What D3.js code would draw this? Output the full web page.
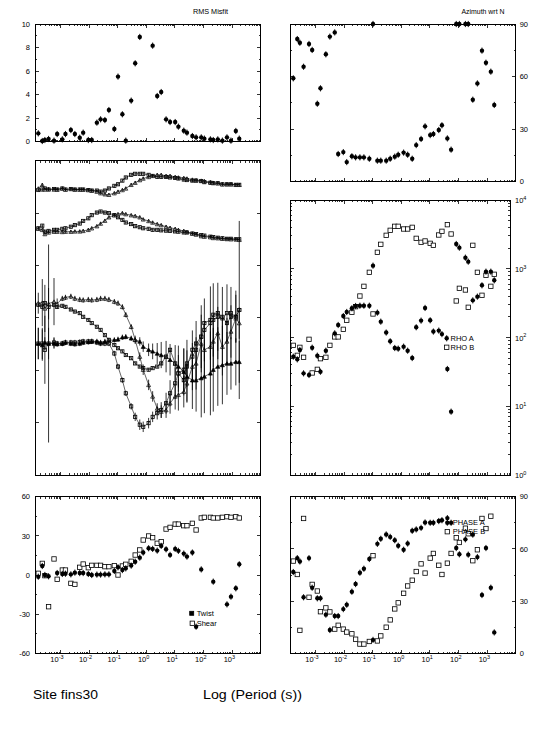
<!DOCTYPE html>
<html><head><meta charset="utf-8">
<script src="https://cdn.jsdelivr.net/npm/d3@7"></script>
<style>body{margin:0;background:#fff}svg{display:block}</style>
</head><body>
<script>
// ---------- DATA ----------
const period = [1.66e-4,2.29e-4,2.82e-4,3.80e-4,5.89e-4,7.59e-4,1.15e-3,1.48e-3,2.29e-3,3.16e-3,4.68e-3,6.17e-3,9.33e-3,0.0123,0.0186,0.0251,0.0355,0.049,0.0759,0.102,0.145,0.191,0.295,0.407,0.589,0.776,1.20,1.66,2.40,3.31,4.90,6.76,10.2,13.2,20.4,26.3,40.7,55.0,83.2,107,174,219,316,457,661,912,1349,1778];

const rmsMisfit = [0.71,0.06,0.14,0.23,0.09,0.65,0.20,0.65,0.99,0.65,0.34,0.77,0.14,0.14,1.62,1.90,1.84,2.69,1.08,5.53,2.33,0.09,3.49,6.66,8.90,null,null,8.16,3.88,4.22,1.90,1.67,1.67,1.28,0.94,0.77,0.48,0.37,0.37,0.26,0.20,0.14,0.20,0.09,0.37,0.09,0.91,0.26];

const azimuth = [59.0,81.4,79.3,65.6,78.6,75.2,44.5,53.3,72.7,82.8,85.2,15.8,16.9,11.2,14.5,13.9,13.9,13.9,13.1,90,12.0,12.0,12.0,13.1,14.3,15.4,16.6,15.4,13.1,20.9,24.4,31.6,26.6,27.2,29.5,32.2,24.7,18.3,90,90,90,90,46.8,56.1,74.8,67.9,62.8,43.8];

const rhoA = [52.6,48.1,65.8,30.1,28.5,71.1,54.4,31.8,64.3,null,115,152,205,235,266,287,290,290,290,1109,230,170,118,88,70.3,68.8,73.6,64.3,50.3,141,176,269,178,122,126,112,34.8,8.34,2291,2027,1449,1268,347,393,574,907,907,679];
const rhoB = [76.9,55.0,71.9,51.5,94.1,30.5,34.4,49.2,51.5,76.9,102,102,131.5,178,232,281,401,555,887,220,1734,2265,3063,3622,4141,4141,3786,3786,4002,2768,2422,2535,2342,2191,3097,3501,4377,3202,340,519,491,275,2191,887,411,802,555,830];

const twist = [-1.3,6.9,0,-1.0,null,1.5,0.8,1.0,0.5,1.8,1.5,1.5,0.8,0,0.3,0.3,0.5,0.5,3.1,5.9,3.8,5.1,7.2,10.2,13.3,17.2,20.5,20.0,18.7,22.3,19.7,15.4,20.0,18.5,16.4,14.1,17.2,-39.6,4.3,null,null,-5.1,null,null,-22.5,-16.6,-10.2,8.2];
const shear = [1.3,8.9,-0.5,-24.3,12.3,-3.3,3.8,3.8,-6.4,-7.2,5.9,8.4,5.6,7.4,7.4,7.4,6.4,6.4,7.2,0,6.9,8.2,10.5,15.3,19.2,26.8,29.9,28.6,24.3,25.5,35.2,36.5,39.0,39.0,37.8,37.8,39.6,34.5,43.7,44.2,44.2,43.7,43.7,44.2,44.7,44.2,44.7,43.7];

const phaseA = [46.7,54.7,52.8,32.2,54.7,37.7,31.6,31.6,22.2,13.4,21.4,21.4,25.4,27.9,35.4,39.8,46.3,48.6,54.2,7.7,62.9,65.8,68.3,66.9,65.0,61.8,59.5,63.1,70.4,71.2,72.1,75.2,75.0,75.0,76.0,76.5,77.7,75.0,60.5,56.9,65.5,56.7,68.2,55.3,33.5,60.5,37.7,12.0];
const phaseB = [53.0,45.3,13.2,77.5,32.2,39.6,35.8,23.9,26.1,23.8,13.9,16.1,13.9,12.2,11.2,8.1,5.3,5.3,6.8,56.1,7.1,10.0,15.0,19.2,25.5,29.0,34.5,38.7,42.0,47.0,51.4,46.1,54.7,57.4,50.6,45.3,51.8,57.4,66.4,63.7,71.9,68.7,53.2,59.5,77.5,71.7,78.8,null];

// middle-left panel curves (arbitrary units, panel spans -3..3)
const curveT1 = [2.44,2.45,2.47,2.45,2.46,2.45,2.47,2.45,2.46,2.45,2.45,2.45,2.44,2.43,2.43,2.41,2.43,2.47,2.52,2.55,2.62,2.68,2.73,2.75,2.75,2.75,2.73,2.71,2.69,2.69,2.69,2.68,2.67,2.66,2.64,2.63,2.62,2.62,2.61,2.59,2.58,2.57,2.57,2.55,2.55,2.55,2.54,2.54];
const curveT2 = [2.47,2.54,2.45,2.46,2.45,2.45,2.47,2.45,2.46,2.45,2.45,2.45,2.44,2.43,2.41,2.38,2.36,2.35,2.38,2.41,2.44,2.47,2.54,2.58,2.63,2.66,2.69,2.71,2.73,2.73,2.71,2.71,2.69,2.68,2.67,2.66,2.64,2.63,2.62,2.61,2.59,2.58,2.57,2.55,2.55,2.55,2.54,2.54];
const curveB1 = [1.71,1.76,1.645,1.66,1.68,1.68,1.70,1.71,1.74,1.77,1.80,1.85,1.90,1.96,2.01,2.03,2.01,2.00,1.96,1.92,1.87,1.82,1.79,1.75,1.73,1.71,1.70,1.68,1.68,1.67,1.665,1.66,1.65,1.645,1.63,1.63,1.61,1.60,1.58,1.57,1.55,1.54,1.53,1.52,1.51,1.51,1.50,1.50];
const curveB2 = [1.70,1.68,1.60,1.63,1.645,1.645,1.64,1.645,1.645,1.65,1.65,1.66,1.68,1.71,1.75,1.80,1.855,1.92,1.96,1.98,2.00,1.98,1.96,1.945,1.92,1.88,1.85,1.82,1.79,1.77,1.74,1.72,1.70,1.68,1.66,1.64,1.61,1.59,1.56,1.55,1.54,1.525,1.52,1.51,1.505,1.50,1.50,1.49];
const curveL1 = [0.28,0.29,0.18,0.27,0.31,0.27,0.37,0.39,0.41,0.37,0.35,0.34,0.35,0.34,0.35,0.37,0.37,0.35,0.31,0.28,0.21,0.06,-0.17,-0.42,-0.74,-0.99,-1.28,-1.50,-1.73,-1.79,-1.76,-1.63,-1.50,-1.47,-1.41,-1.25,-0.93,-0.87,-0.49,-0.61,-0.55,-0.45,-0.29,-0.55,-0.45,-0.26,-0.01,-0.10];
const curveL2 = [0.25,0.21,0.28,0.21,0.25,0.21,0.23,0.21,0.16,0.12,0.09,0.02,-0.04,-0.10,-0.17,-0.23,-0.33,-0.42,-0.52,-0.58,-0.64,-0.71,-0.77,-0.87,-0.93,-0.96,-0.99,-0.96,-0.93,-0.87,-0.74,-0.61,-0.87,-1.06,-1.19,-0.93,-0.61,-0.49,-0.36,-0.10,-0.04,0.06,0.09,0.02,-0.10,0.02,0.02,0.15];
const curveL3 = [-0.49,-0.52,-0.47,-0.49,-0.49,-0.50,-0.49,-0.47,-0.49,-0.50,-0.49,-0.47,-0.46,-0.45,-0.45,-0.47,-0.45,-0.43,-0.42,-0.41,-0.37,-0.36,-0.39,-0.42,-0.45,-0.55,-0.61,-0.64,-0.68,-0.71,-0.74,-0.80,-0.87,-0.93,-1.03,-1.12,-1.19,-1.19,-1.15,-1.12,-1.06,-0.99,-0.93,-0.90,-0.87,-0.87,-0.84,-0.84];
const curveL4 = [-0.49,-0.49,-0.61,-0.49,-0.47,-0.49,-0.49,-0.47,-0.47,-0.47,-0.46,-0.45,-0.45,-0.45,-0.47,-0.49,-0.49,-0.49,-0.68,-0.93,-1.19,-1.44,-1.69,-1.89,-2.04,-2.08,-2.01,-1.89,-1.82,-1.76,-1.63,-1.44,-1.25,-1.06,-0.99,-0.87,-0.74,-0.61,-0.36,-0.23,-0.10,-0.04,0.02,-0.01,0.09,0.09,0.02,0.15];
// error half-widths for lower curves
const errL1 = [0.2,0.45,0.45,0.3,0.45,0.1,0.05,0.05,0.05,0.05,0.05,0.05,0.05,0.05,0.05,0.05,0.05,0.05,0.05,0.05,0.05,0.05,0.05,0.08,0.08,0.1,0.1,0.1,0.1,0.12,0.15,0.2,0.25,0.3,0.3,0.35,0.45,0.5,0.55,0.5,0.55,0.5,0.5,0.55,0.45,0.5,0.45,0.3];
const errL3 = [0.3,0.3,0.1,0.3,0.1,0.05,0.05,0.05,0.05,0.05,0.05,0.05,0.05,0.05,0.05,0.05,0.05,0.05,0.05,0.05,0.05,0.05,0.05,0.05,0.08,0.1,0.12,0.15,0.2,0.25,0.3,0.3,0.35,0.4,0.45,0.5,0.55,0.6,0.75,0.7,0.8,0.8,0.75,0.75,0.6,0.5,0.45,0.4];
const errL4 = [0.3,0.3,0.65,1.89,0.1,0.05,0.05,0.05,0.05,0.05,0.05,0.05,0.05,0.05,0.05,0.05,0.05,0.05,0.05,0.05,0.05,0.05,0.06,0.08,0.1,0.1,0.1,0.1,0.12,0.15,0.2,0.25,0.3,0.35,0.4,0.45,0.5,0.55,0.6,0.6,0.7,0.7,0.65,0.6,0.55,0.5,0.5,1.7];

const xDecades = [1e-3,1e-2,1e-1,1,10,100,1000];
const xExps = ["-3","-2","-1","0","1","2","3"];

// ---------- LAYOUT ----------
const W = 554, H = 736;
const svg = d3.select("body").append("svg").attr("width", W).attr("height", H)
  .style("font-family", "'Liberation Sans', Arial, sans-serif");

const xDomain = [Math.pow(10,-3.895), 1e4];
const xL = d3.scaleLog().domain(xDomain).range([35, 260.7]);
const xR = d3.scaleLog().domain(xDomain).range([290, 515.7]);

const panels = {
  tl: {x: xL, x0: 35, x1: 260.7, y: d3.scaleLinear().domain([0,10]).range([141.7,24])},
  tr: {x: xR, x0: 290, x1: 515.7, y: d3.scaleLinear().domain([0,90]).range([181.7,24])},
  ml: {x: xL, x0: 35, x1: 260.7, y: d3.scaleLinear().domain([-3,3]).range([475,160.7])},
  mr: {x: xR, x0: 290, x1: 510, y: d3.scaleLog().domain([1,1e4]).range([475,200])},
  bl: {x: xL, x0: 35, x1: 260.7, y: d3.scaleLinear().domain([-60,60]).range([653.3,496.7])},
  br: {x: xR, x0: 290, x1: 515.7, y: d3.scaleLinear().domain([0,90]).range([653.3,496.7])}
};

const FS = 7.5;
function frame(p, yMajor, yMinor, yLabelSide, yLabels, xLabels, yLogLabels) {
  const g = svg.append("g").attr("shape-rendering","crispEdges");
  const y0 = p.y.range()[1], y1 = p.y.range()[0];
  g.append("rect").attr("x", p.x0).attr("y", y0).attr("width", p.x1 - p.x0).attr("height", y1 - y0)
    .attr("fill","none").attr("stroke","#000").attr("stroke-width",1);
  for (let n = -4; n <= 3; n++) for (let k = 1; k <= 9; k++) {
    const v = k * Math.pow(10, n);
    if (v < xDomain[0] || v > xDomain[1]) continue;
    const xx = p.x(v);
    if (xx <= p.x0 + 0.5 || xx >= p.x1 - 0.5) continue;
    const len = k === 1 ? 3.5 : 1.8;
    g.append("line").attr("x1",xx).attr("x2",xx).attr("y1",y1).attr("y2",y1-len).attr("stroke","#000").attr("stroke-width",0.8);
    g.append("line").attr("x1",xx).attr("x2",xx).attr("y1",y0).attr("y2",y0+len).attr("stroke","#000").attr("stroke-width",0.8);
  }
  const yt = (vals, len) => vals.forEach(v => {
    const yy = p.y(v);
    if (yy <= y0 + 0.5 || yy >= y1 - 0.5) return;
    g.append("line").attr("x1",p.x0).attr("x2",p.x0+len).attr("y1",yy).attr("y2",yy).attr("stroke","#000").attr("stroke-width",0.8);
    g.append("line").attr("x1",p.x1).attr("x2",p.x1-len).attr("y1",yy).attr("y2",yy).attr("stroke","#000").attr("stroke-width",0.8);
  });
  yt(yMajor, 4); yt(yMinor, 2);
  const tg = svg.append("g").attr("font-size", FS).attr("fill","#000");
  if (yLabels) yLabels.forEach(v => {
    const yy = p.y(v) + 2.7;
    if (yLabelSide === "left") tg.append("text").attr("x", p.x0 - 5).attr("y", yy).attr("text-anchor","end").text(v);
    else tg.append("text").attr("x", p.x1 + 4).attr("y", yy).attr("text-anchor","start").text(v);
  });
  if (yLogLabels) yLogLabels.forEach((v,i) => {
    const t = tg.append("text").attr("x", p.x1 + 5).attr("y", p.y(v) + 3).attr("text-anchor","start");
    t.append("tspan").text("10");
    t.append("tspan").attr("dy",-3.2).attr("font-size",5.5).text(String(i));
  });
  if (xLabels) xDecades.forEach((v,i) => {
    const t = tg.append("text").attr("x", p.x(v) + 3).attr("y", y1 + 8.5).attr("text-anchor","end");
    t.append("tspan").text("10");
    t.append("tspan").attr("dy",-3.2).attr("font-size",5.5).text(xExps[i]);
  });
}

frame(panels.tl, [0,2,4,6,8,10], [1,3,5,7,9], "left", [0,2,4,6,8,10], false);
frame(panels.tr, [0,30,60,90], [15,45,75], "right", [0,30,60,90], false);
frame(panels.ml, [-2,-1,0,1,2], [], null, null, false);
const logMinor = []; for (let n=0;n<4;n++) for (let k=2;k<=9;k++) logMinor.push(k*Math.pow(10,n));
frame(panels.mr, [1,10,100,1000,10000], logMinor, null, null, false, [1,10,100,1000,10000]);
frame(panels.bl, [-60,-30,0,30,60], [-45,-15,15,45], "left", [-60,-30,0,30,60], true);
frame(panels.br, [0,30,60,90], [15,45,75], "right", [0,30,60,90], true);

// ---------- MARKERS ----------
const mg = svg.append("g");
function dot(x, y) {
  mg.append("line").attr("x1",x).attr("x2",x).attr("y1",y-3.1).attr("y2",y+3.1).attr("stroke","#000").attr("stroke-width",0.9);
  mg.append("circle").attr("cx",x).attr("cy",y).attr("r",2.2).attr("fill","#000");
}
function sq(x, y, s, filled) {
  mg.append("rect").attr("x",x-s/2).attr("y",y-s/2).attr("width",s).attr("height",s)
    .attr("fill", filled ? "#000" : "#fff").attr("stroke","#000").attr("stroke-width",0.8);
}
function tri(x, y, s, filled) {
  const h = s * 0.87;
  mg.append("path").attr("d",`M${x-s/2},${y+h/2}L${x+s/2},${y+h/2}L${x},${y-h/2}Z`)
    .attr("fill", filled ? "#000" : "#fff").attr("stroke","#000").attr("stroke-width",0.7);
}
function scatter(p, vals, kind) {
  vals.forEach((v,i) => {
    if (v == null) return;
    const x = p.x(period[i]), y = p.y(v);
    if (kind === "dot") dot(x,y); else sq(x,y,4.4,false);
  });
}

scatter(panels.tl, rmsMisfit, "dot");
scatter(panels.tr, azimuth, "dot");
scatter(panels.mr, rhoB, "sq");
scatter(panels.mr, rhoA, "dot");
scatter(panels.bl, shear, "sq");
scatter(panels.bl, twist, "dot");
scatter(panels.br, phaseB, "sq");
scatter(panels.br, phaseA, "dot");

// ---------- MIDDLE-LEFT CURVES ----------
const pm = panels.ml;
const lineGen = d3.line().defined(d => d[1] != null).x(d => pm.x(d[0])).y(d => pm.y(d[1]));
const curves = [
  {v: curveT1, m: "sq", f: false},
  {v: curveT2, m: "tri", f: false},
  {v: curveB1, m: "sq", f: false},
  {v: curveB2, m: "tri", f: false},
  {v: curveL4, m: "sq", f: false, e: errL4},
  {v: curveL3, m: "tri", f: true, e: errL3},
  {v: curveL2, m: "sq", f: false},
  {v: curveL1, m: "tri", f: false, e: errL1}
];
const cg = svg.append("g");
curves.forEach(c => {
  cg.append("path").attr("d", lineGen(c.v.map((v,i)=>[period[i], v])))
    .attr("fill","none").attr("stroke","#000").attr("stroke-width",0.6);
  c.v.forEach((v,i) => {
    if (v == null) return;
    const x = pm.x(period[i]);
    const e = c.e ? c.e[i] : 0.03;
    cg.append("line").attr("x1",x).attr("x2",x).attr("y1",pm.y(v+e)).attr("y2",pm.y(v-e))
      .attr("stroke","#000").attr("stroke-width",0.8);
  });
});
curves.forEach(c => {
  c.v.forEach((v,i) => {
    if (v == null) return;
    const x = pm.x(period[i]), y = pm.y(v);
    if (c.m === "sq") sq(x, y, 3.2, c.f); else tri(x, y, 4, c.f);
  });
});

// ---------- TEXT ----------
const tx = svg.append("g").attr("font-size", FS).attr("fill","#000");
tx.append("text").attr("x",193).attr("y",14).attr("textLength",35).attr("lengthAdjust","spacingAndGlyphs").text("RMS Misfit");
tx.append("text").attr("x",461.5).attr("y",14).attr("textLength",43).attr("lengthAdjust","spacingAndGlyphs").text("Azimuth wrt N");

// legends
dot(446.7, 338.3); tx.append("text").attr("x",450.5).attr("y",341).text("RHO A");
sq(446.7, 347.3, 4.4, false); tx.append("text").attr("x",450.5).attr("y",350).text("RHO B");
sq(191.7, 613.3, 4, true); tx.append("text").attr("x",196.7).attr("y",616).text("Twist");
sq(192.3, 623.3, 4.4, false); tx.append("text").attr("x",196.7).attr("y",626).text("Shear");
dot(447.3, 522.7); tx.append("text").attr("x",452.7).attr("y",525.4).text("PHASE A");
sq(447.3, 531.7, 4.4, false); tx.append("text").attr("x",452.7).attr("y",534.4).text("PHASE B");

svg.append("text").attr("x",33).attr("y",699.3).attr("font-size",12).attr("textLength",65).attr("lengthAdjust","spacingAndGlyphs").text("Site fins30");
svg.append("text").attr("x",203).attr("y",699.3).attr("font-size",12).attr("textLength",99).attr("lengthAdjust","spacingAndGlyphs").text("Log (Period (s))");
</script>
</body></html>
